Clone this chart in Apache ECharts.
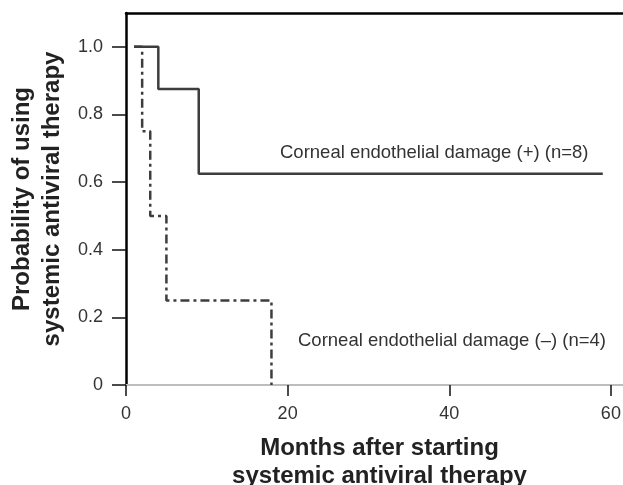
<!DOCTYPE html>
<html>
<head>
<meta charset="utf-8">
<script src="https://cdn.jsdelivr.net/npm/echarts@6/dist/echarts.min.js"></script>
<style>
  html, body { margin: 0; padding: 0; background: #fff; }
  #chart { width: 623px; height: 485px; }
</style>
</head>
<body>
<div id="chart"></div>
<script>
// 数据
var xTicks = [0, 20, 40, 60];
var yTicks = [0, 0.2, 0.4, 0.6, 0.8, 1.0];
var posMonths = [1, 4, 9, 59];
var posProb = [1, 0.875, 0.625, 0.625];
var negMonths = [1, 2, 3, 5, 18];
var negProb = [1, 0.75, 0.5, 0.25, 0];
var posLabel = 'Corneal endothelial damage (+) (n=8)';
var negLabel = 'Corneal endothelial damage (\u2013) (n=4)';

function pairs(xs, ys) {
    var out = [];
    for (let i = 0; i < xs.length; i++) {
        out.push([xs[i], ys[i]]);
    }
    return out;
}

function initEcharts() {
    var myChart = echarts.init(document.getElementById('chart'));
    var font = 'Liberation Sans, Arial, sans-serif';

    var option = {
        animation: false,
        grid: {
            left: 126,
            right: 0,
            top: 13,
            bottom: 100,
            outerBoundsMode: 'none',
            containLabel: false
        },
        xAxis: [{
            type: 'value',
            min: 0,
            max: 61.5,
            position: 'bottom',
            splitLine: { show: false },
            axisLine: { lineStyle: { color: '#bdbdbd', width: 2 } },
            axisTick: {
                customValues: xTicks,
                length: 11,
                lineStyle: { color: '#111', width: 1.5 }
            },
            axisLabel: {
                customValues: xTicks,
                margin: 20,
                fontSize: 18,
                color: '#333',
                fontFamily: font
            },
            name: 'Months after starting\nsystemic antiviral therapy',
            nameLocation: 'middle',
            nameGap: 49,
            nameTextStyle: {
                fontSize: 24,
                fontWeight: 'bold',
                color: '#222',
                fontFamily: font,
                lineHeight: 28,
                padding: [0, 0, 0, 10]
            }
        }, {
            type: 'value',
            min: 0,
            max: 61.5,
            position: 'top',
            splitLine: { show: false },
            axisLine: { onZero: false, lineStyle: { color: '#000', width: 2.5 } },
            axisTick: { show: false },
            axisLabel: { show: false }
        }],
        yAxis: {
            type: 'value',
            min: 0,
            max: 1.1,
            splitLine: { show: false },
            axisLine: { lineStyle: { color: '#000', width: 2.5 } },
            axisTick: {
                customValues: yTicks,
                length: 14,
                lineStyle: { color: '#111', width: 1.5 }
            },
            axisLabel: {
                customValues: yTicks,
                margin: 23,
                fontSize: 18,
                color: '#333',
                fontFamily: font,
                formatter: function (v) {
                    return v === 0 ? '0' : v.toFixed(1);
                }
            },
            name: 'Probability of using\nsystemic antiviral therapy',
            nameLocation: 'middle',
            nameGap: 56,
            nameTextStyle: {
                fontSize: 24,
                fontWeight: 'bold',
                color: '#222',
                fontFamily: font,
                lineHeight: 30
            }
        },
        series: [{
            name: posLabel,
            type: 'line',
            step: 'end',
            showSymbol: false,
            data: pairs(posMonths, posProb),
            lineStyle: { color: '#3d3d3d', width: 2.5 },
            z: 3
        }, {
            name: negLabel,
            type: 'line',
            step: 'end',
            showSymbol: false,
            data: pairs(negMonths, negProb),
            lineStyle: { color: '#3d3d3d', width: 2.5, type: [9, 4, 3, 4] },
            z: 2
        }],
        graphic: [{
            type: 'text',
            left: 280,
            top: 143,
            style: { text: posLabel, fontSize: 18.5, fill: '#333', fontFamily: font }
        }, {
            type: 'text',
            left: 298,
            top: 331,
            style: { text: negLabel, fontSize: 18.5, fill: '#333', fontFamily: font }
        }]
    };

    myChart.setOption(option);
    resize(myChart);
}

function resize(echart) {
    window.onresize = function () {
        echart.resize();
    };
}

initEcharts();
</script>
</body>
</html>
